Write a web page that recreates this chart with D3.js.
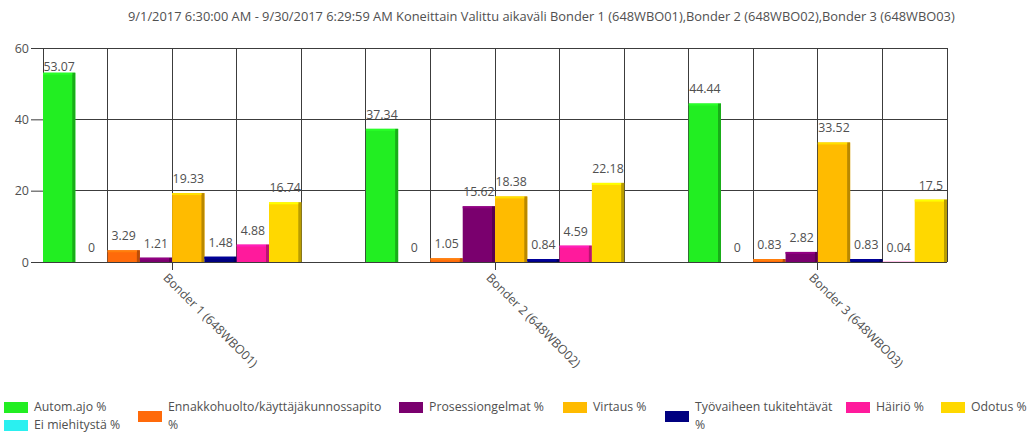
<!DOCTYPE html>
<html>
<head>
<meta charset="utf-8">
<script src="https://cdn.jsdelivr.net/npm/d3@7"></script>
<style>
  body { margin: 0; background: #fff; }
  svg { display: block; font-family: "Open Sans", "Noto Sans", sans-serif; }
</style>
</head>
<body>
<svg id="chart" width="1036" height="434"></svg>
<script>
// ---- data ----
const titleText = "9/1/2017 6:30:00 AM - 9/30/2017 6:29:59 AM Koneittain Valittu aikaväli Bonder 1 (648WBO01),Bonder 2 (648WBO02),Bonder 3 (648WBO03)";
const categories = ["Bonder 1 (648WBO01)", "Bonder 2 (648WBO02)", "Bonder 3 (648WBO03)"];
const seriesNames = ["Autom.ajo %", "Ei miehitystä %", "Ennakkohuolto/käyttäjäkunnossapito %", "Prosessiongelmat %", "Virtaus %", "Työvaiheen tukitehtävät %", "Häiriö %", "Odotus %"];
const seriesColors = ["#22ee22", "#2af0f0", "#ff6a0a", "#7a006e", "#ffbb00", "#000080", "#ff1a9c", "#ffd800"];
const autom = [53.07, 37.34, 44.44];
const eiMiehitysta = [0, 0, 0];
const ennakkohuolto = [3.29, 1.05, 0.83];
const prosessi = [1.21, 15.62, 2.82];
const virtaus = [19.33, 18.38, 33.52];
const tyovaihe = [1.48, 0.84, 0.83];
const hairio = [4.88, 4.59, 0.04];
const odotus = [16.74, 22.18, 17.5];
const yTicks = [0, 20, 40, 60];

const seriesValues = [autom, eiMiehitysta, ennakkohuolto, prosessi, virtaus, tyovaihe, hairio, odotus];

// ---- layout ----
const plot = { left: 43, right: 947, top: 48, bottom: 262 };
const textColor = "#505050";
const gridColor = "#3c3c3c";

const svg = d3.select("#chart");

const x0 = d3.scaleBand().domain(categories).range([plot.left, plot.right])
  .paddingInner(0.2).paddingOuter(0);
const x1 = d3.scaleBand().domain(seriesNames).range([0, x0.bandwidth()]).padding(0);
const y = d3.scaleLinear().domain([0, 60]).range([plot.bottom, plot.top]);

// title
svg.append("text")
  .attr("x", 128).attr("y", 21)
  .attr("font-size", 12.85).attr("fill", textColor)
  .text(titleText);

// vertical grid: one line every two bar slots, edges included
const slot = x1.bandwidth();
const nV = Math.round((plot.right - plot.left) / (2 * slot));
const vLines = d3.range(nV + 1).map(i => plot.left + i * 2 * slot);
svg.append("g").selectAll("line").data(vLines).join("line")
  .attr("x1", d => d).attr("x2", d => d)
  .attr("y1", plot.top).attr("y2", plot.bottom)
  .attr("stroke", gridColor).attr("stroke-width", 1).attr("shape-rendering", "crispEdges");

// horizontal grid
svg.append("g").selectAll("line").data(yTicks).join("line")
  .attr("x1", plot.left).attr("x2", plot.right)
  .attr("y1", d => y(d)).attr("y2", d => y(d))
  .attr("stroke", gridColor).attr("stroke-width", 1).attr("shape-rendering", "crispEdges");

// y axis
const yAxis = svg.append("g")
  .attr("transform", `translate(${plot.left},0)`)
  .call(d3.axisLeft(y).tickValues(yTicks).tickSize(12).tickPadding(2).tickFormat(d3.format("d")));
yAxis.select(".domain").attr("stroke", gridColor);
yAxis.selectAll(".tick line").attr("stroke", gridColor);
yAxis.selectAll(".tick text").attr("font-size", 12.5).attr("fill", textColor)
  .attr("font-family", "\"Open Sans\", sans-serif");

// bars
const records = [];
categories.forEach((c, ci) => {
  seriesNames.forEach((s, si) => {
    records.push({ cat: c, series: s, color: seriesColors[si], value: seriesValues[si][ci] });
  });
});

const barG = svg.append("g");
const bar = barG.selectAll("g").data(records).join("g")
  .attr("transform", d => `translate(${x0(d.cat) + x1(d.series)},0)`);
const bw = x1.bandwidth();
bar.append("rect")
  .attr("x", 0).attr("width", bw)
  .attr("y", d => y(d.value)).attr("height", d => y(0) - y(d.value))
  .attr("fill", d => d.color);
// shaded right side
bar.append("rect")
  .attr("x", bw - 3).attr("width", 3)
  .attr("y", d => y(d.value)).attr("height", d => y(0) - y(d.value))
  .attr("fill", d => d3.color(d.color).darker(0.9));
// highlight on top edge
bar.append("rect")
  .attr("x", 0).attr("width", bw - 3)
  .attr("y", d => y(d.value)).attr("height", d => Math.min(2, y(0) - y(d.value)))
  .attr("fill", d => d3.color(d.color).brighter(0.5));

// value labels
bar.append("text")
  .attr("x", bw / 2)
  .attr("y", d => Math.max(y(d.value) - 10, plot.top + 23))
  .attr("text-anchor", "middle")
  .attr("font-size", 12.3).attr("fill", textColor)
  .text(d => String(d.value));

// x axis line + ticks
svg.append("line")
  .attr("x1", plot.left).attr("x2", plot.right)
  .attr("y1", plot.bottom).attr("y2", plot.bottom)
  .attr("stroke", gridColor).attr("shape-rendering", "crispEdges");
const xTicks = svg.append("g").selectAll("g").data(categories).join("g")
  .attr("transform", d => `translate(${x0(d) + x0.bandwidth() / 2},${plot.bottom})`);
xTicks.append("line").attr("y1", 0).attr("y2", 8)
  .attr("stroke", gridColor).attr("shape-rendering", "crispEdges");
xTicks.append("text")
  .attr("transform", "translate(-3,10) rotate(45)")
  .attr("dy", "0.75em")
  .attr("font-size", 12.3).attr("fill", textColor)
  .text(d => d);

// legend
const legendItems = [
  { s: 0, x: 4, row: 0, lines: ["Autom.ajo %"] },
  { s: 1, x: 4, row: 1, lines: ["Ei miehitystä %"] },
  { s: 2, x: 138, row: 0.5, lines: ["Ennakkohuolto/käyttäjäkunnossapito", "%"] },
  { s: 3, x: 399, row: 0, lines: ["Prosessiongelmat %"] },
  { s: 4, x: 563, row: 0, lines: ["Virtaus %"] },
  { s: 5, x: 665, row: 0.5, lines: ["Työvaiheen tukitehtävät", "%"] },
  { s: 6, x: 846, row: 0, lines: ["Häiriö %"] },
  { s: 7, x: 941, row: 0, lines: ["Odotus %"] }
];
const rowBase = 411, rowStep = 18;
const leg = svg.append("g").selectAll("g").data(legendItems).join("g");
leg.append("rect")
  .attr("x", d => d.x).attr("y", d => rowBase - 9 + d.row * rowStep)
  .attr("width", 24).attr("height", 11)
  .attr("fill", d => seriesColors[d.s]);
leg.each(function (d) {
  const g = d3.select(this);
  const startRow = d.lines.length > 1 ? 0 : d.row;
  d.lines.forEach((ln, i) => {
    g.append("text")
      .attr("x", d.x + 30)
      .attr("y", rowBase + (startRow + i) * rowStep)
      .attr("font-size", 12.3).attr("fill", textColor)
      .text(ln);
  });
});
</script>
</body>
</html>
